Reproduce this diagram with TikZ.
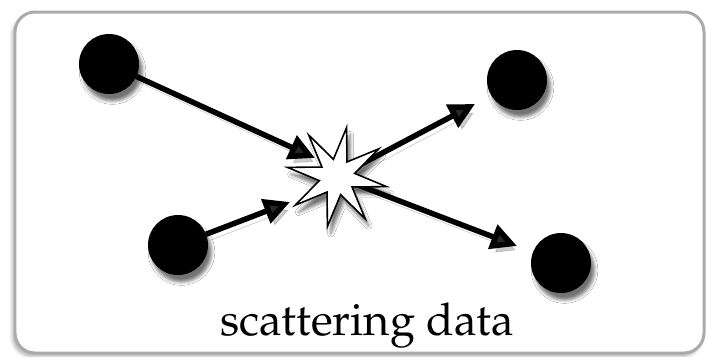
\documentclass[tikz,border=0pt]{standalone}
\usepackage[T1]{fontenc}
\usepackage{mathpazo}
\usepackage{tikz}
\usetikzlibrary{arrows.meta,shapes,shadows.blur,calc,positioning}
\definecolor{grisMarco}{RGB}{170,170,170}
\definecolor{sombra}{RGB}{110,110,110}
\tikzstyle{edge}  =[-{Triangle[length=0.52cm,width=0.5cm]},
                    line width=0.11cm,
                    preaction={draw=sombra,opacity=0.35,
                    transform canvas={xshift=2pt,yshift=-3.5pt}}]
\tikzstyle{bola}=[circle, fill=black, minimum size=1.2cm,
                    inner sep=0pt, outer sep=0pt,
                    blur shadow={shadow xshift=2pt,shadow yshift=-4pt,
                    shadow opacity=55}]
\tikzstyle{choque}=[star, star points=8, star point ratio=2.8,
                    shape border rotate=-11, minimum size=2.02cm,
                    draw, fill=white, line width=0.9pt,
                    inner sep=0pt, outer sep=0pt,
                    blur shadow={shadow xshift=2pt,shadow yshift=-4pt,
                    shadow opacity=55}]
\tikzstyle{marco}=[draw=grisMarco, line width=0.06cm, fill=white,
                    rounded corners=0.4cm,
                    blur shadow={shadow xshift=-1.5pt,shadow yshift=-2pt,
                    shadow opacity=30}]

\begin{document}
\begin{tikzpicture}[x=0.02cm,y=-0.02cm]
    \useasboundingbox (0,0) rectangle (706,356);
    \draw[marco] (15,12) rectangle (704,353);

    \foreach \i/\x/\y in {1/109/64,2/517/80,3/178/245,4/561/263}
        \draw (\x,\y) node(\i)[bola]{};

    \coordinate (t1) at (315,158);
    \coordinate (t2) at (290,202);
    \coordinate (t3) at (475,104);
    \coordinate (t4) at (517,246);
    \coordinate (c) at (337,177);

    \draw [edge] (1) to (t1);
    \draw [edge] (3) to (t2);
    \draw [edge] (c) to (t3);
    \draw [edge] (c) to (t4);

    \draw (c) node(x)[choque]{};

    \draw (367,335) node(e0)[anchor=base]{\fontsize{25.7}{30}\selectfont scattering data};
\end{tikzpicture}
\end{document}
